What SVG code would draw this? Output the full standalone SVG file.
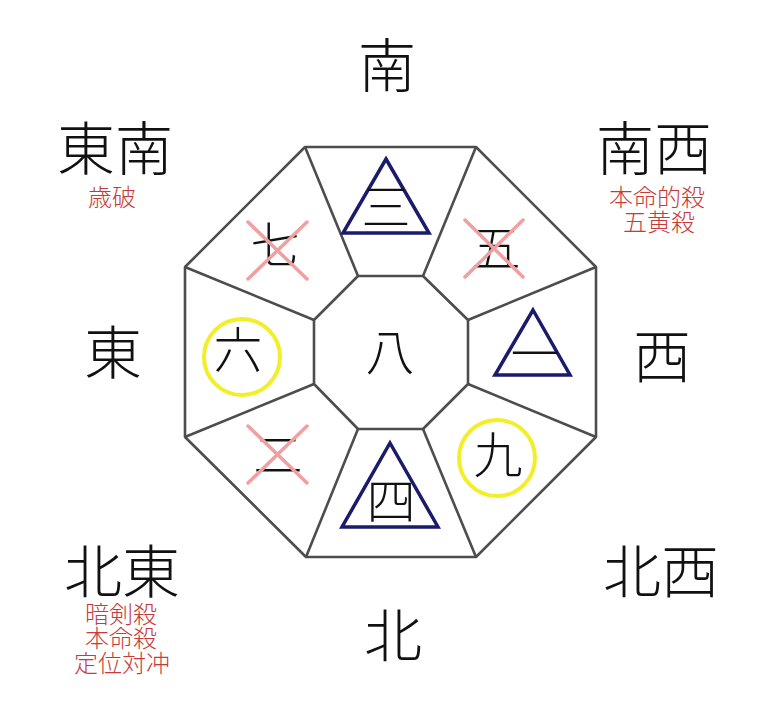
<svg xmlns="http://www.w3.org/2000/svg" width="782" height="713" viewBox="0 0 782 713">
<style>
.ln{fill:none;stroke:#4d4d4d;stroke-width:2.6;stroke-linejoin:round}
.dir{font-family:"Noto Sans CJK JP","Noto Sans CJK SC",sans-serif;font-size:58px;font-weight:300;fill:#111;text-anchor:middle}
.note{font-family:"Noto Sans CJK JP","Noto Sans CJK SC",sans-serif;font-size:24px;font-weight:300;fill:#c83a3a;text-anchor:middle}
.num{font-family:"Noto Sans CJK JP","Noto Sans CJK SC",sans-serif;font-size:49px;font-weight:300;fill:#111;text-anchor:middle}
.tri{fill:none;stroke:#1b1b6b;stroke-width:3.5;stroke-linejoin:miter}
.circ{fill:none;stroke:#f2ee2a;stroke-width:4}
.x{stroke:#f0a0a0;stroke-width:3.5;stroke-linecap:round}
</style>
<rect width="782" height="713" fill="#fff"/>
<g id="connectors">
<polygon class="ln" points="305,147 476,147 596,267 596,437 476,557 306,557 185,437 185,267"/>
<polygon class="ln" points="358,276 423,276 468,320 468,384 423,429 358,429 314,384 314,320"/>
<line class="ln" x1="305" y1="147" x2="358" y2="276"/>
<line class="ln" x1="476" y1="147" x2="423" y2="276"/>
<line class="ln" x1="596" y1="267" x2="468" y2="320"/>
<line class="ln" x1="596" y1="437" x2="468" y2="384"/>
<line class="ln" x1="476" y1="557" x2="423" y2="429"/>
<line class="ln" x1="306" y1="557" x2="358" y2="429"/>
<line class="ln" x1="185" y1="437" x2="314" y2="384"/>
<line class="ln" x1="185" y1="267" x2="314" y2="320"/>
</g>
<g id="center"><text class="num" x="390" y="370">八</text></g>
<g id="south-cell"><polygon class="tri" points="386,159 429,233 343,233"/><text class="num" x="386" y="225">三</text></g>
<g id="southwest-cell"><text class="num" x="496" y="266">五</text><line class="x" x1="465" y1="220" x2="523" y2="277"/><line class="x" x1="523" y1="220" x2="465" y2="277"/></g>
<g id="west-cell"><polygon class="tri" points="533,310 570,375 495,375"/><text class="num" x="535" y="372">一</text></g>
<g id="northwest-cell"><circle class="circ" cx="497" cy="458" r="38"/><text class="num" x="498" y="473">九</text></g>
<g id="north-cell"><polygon class="tri" points="390,443 438,527 342,527"/><text class="num" x="391" y="519">四</text></g>
<g id="northeast-cell"><text class="num" x="278" y="473">二</text><line class="x" x1="248" y1="426" x2="307" y2="483"/><line class="x" x1="307" y1="426" x2="248" y2="483"/></g>
<g id="east-cell"><circle class="circ" cx="242" cy="357" r="38"/><text class="num" x="238" y="368">六</text></g>
<g id="southeast-cell"><text class="num" x="275" y="263">七</text><line class="x" x1="248" y1="222" x2="307" y2="279"/><line class="x" x1="307" y1="222" x2="248" y2="279"/></g>
<g id="label-south"><text class="dir" x="387" y="87">南</text></g>
<g id="label-southeast"><text class="dir" x="115" y="170">東南</text><text class="note" x="112" y="206">歳破</text></g>
<g id="label-southwest"><text class="dir" x="654" y="170">南西</text><text class="note" x="657" y="206">本命的殺</text><text class="note" x="659" y="231">五黄殺</text></g>
<g id="label-east"><text class="dir" x="113" y="374">東</text></g>
<g id="label-west"><text class="dir" x="662" y="378">西</text></g>
<g id="label-northeast"><text class="dir" x="122" y="593">北東</text><text class="note" x="121" y="623">暗剣殺</text><text class="note" x="121" y="647">本命殺</text><text class="note" x="122" y="672">定位対冲</text></g>
<g id="label-northwest"><text class="dir" x="661" y="593">北西</text></g>
<g id="label-north"><text class="dir" x="393" y="657">北</text></g>
</svg>
